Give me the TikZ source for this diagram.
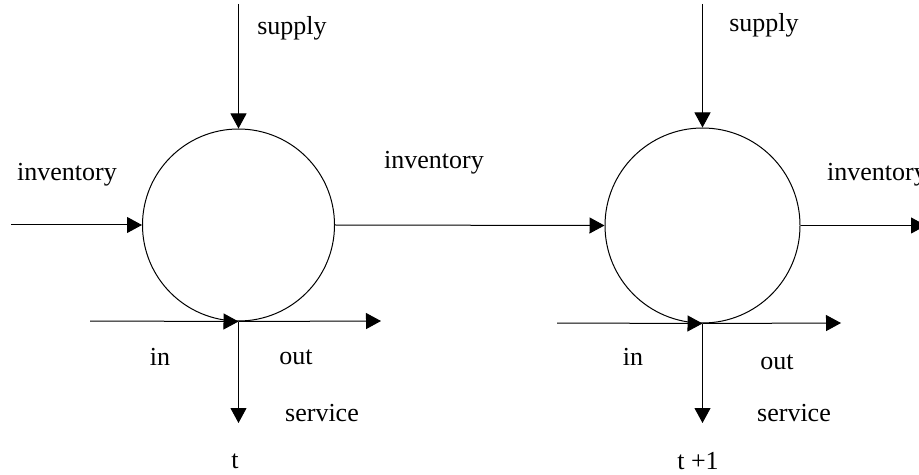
\documentclass[tikz,border=0pt]{standalone}
\usepackage{fontspec}
\setmainfont{Liberation Serif}
\usetikzlibrary{arrows.meta}

\begin{document}
\begin{tikzpicture}[x=0.5pt,y=-0.5pt,
  flow/.style={-{Triangle[length=7.5pt,width=8pt]},line width=0.5pt},
  stock/.style={draw,circle,inner sep=0pt,line width=0.5pt},
  lbl/.style={inner sep=0pt,font=\fontsize{13}{15}\selectfont}]
\useasboundingbox (0,0) rectangle (919,475);
% period t
\node (P1) at (238.5,225)[stock,minimum size=96pt] {};
\coordinate (S1) at (238.5,4);
\coordinate (I0) at (11,225);
\coordinate (A1) at (90,321);
\coordinate (B1) at (381,321);
\coordinate (D1) at (238.5,423);
\draw [flow] (S1) to (P1.north);
\draw [flow] (I0) to (P1.west);
\draw [flow] (A1) to (P1.south);
\draw [flow] (P1.south) to (B1);
\draw [flow] (P1.south) to (D1);
\node (supply1) at (292,28)[lbl] {supply};
\node (inv0) at (67,175)[lbl] {inventory};
\node (in1) at (160,357)[lbl] {in};
\node (out1) at (296,357)[lbl] {out};
\node (serv1) at (322,413)[lbl] {service};
\node (t1) at (235,461)[lbl] {t};
% period t+1
\node (P2) at (702.5,225.5)[stock,minimum size=97.5pt] {};
\coordinate (S2) at (702.5,4);
\coordinate (I2) at (926,225.5);
\coordinate (A2) at (557,323);
\coordinate (B2) at (841,323);
\coordinate (D2) at (702.5,423);
\draw [flow] (P1.east) to (P2.west);
\draw [flow] (S2) to (P2.north);
\draw [flow] (P2.east) to (I2);
\draw [flow] (A2) to (P2.south);
\draw [flow] (P2.south) to (B2);
\draw [flow] (P2.south) to (D2);
\node (inv1) at (434,163)[lbl] {inventory};
\node (supply2) at (764,25)[lbl] {supply};
\node (inv2) at (877,175)[lbl] {inventory};
\node (in2) at (633,357)[lbl] {in};
\node (out2) at (777,362)[lbl] {out};
\node (serv2) at (794,413)[lbl] {service};
\node (t2) at (698,461)[lbl] {t +1};
\end{tikzpicture}
\end{document}
